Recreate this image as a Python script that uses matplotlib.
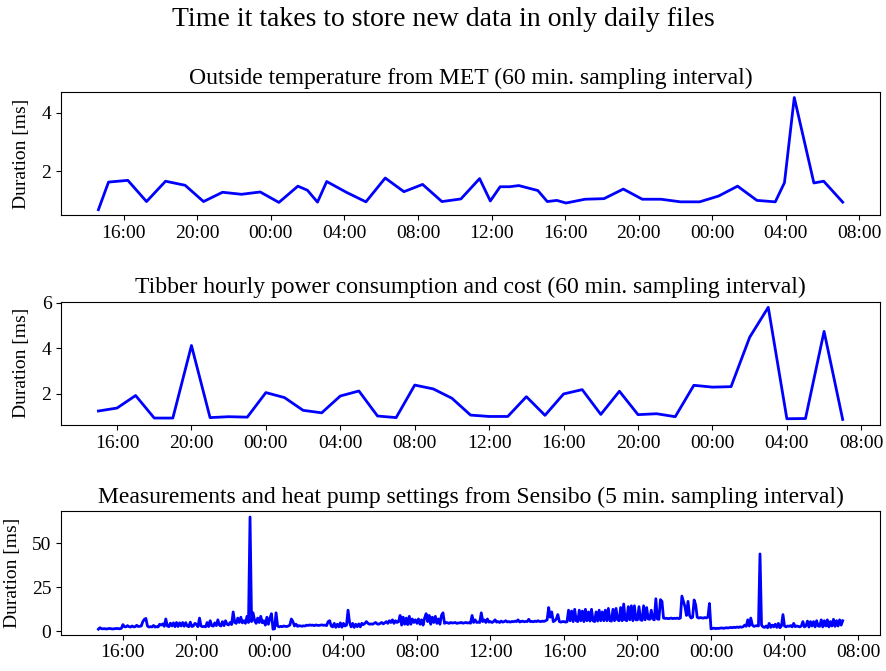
import numpy as np
import pandas as pd
import matplotlib
matplotlib.use("Agg")
import matplotlib.pyplot as plt
import matplotlib.dates as mdates

plt.rcParams['font.family'] = ['Liberation Serif', 'DejaVu Serif']
plt.rcParams['font.size'] = 14

# outside temperature from MET, roughly hourly
met_times = [
    "2023-02-13 14:37", "2023-02-13 15:10", "2023-02-13 16:13", "2023-02-13 17:14",
    "2023-02-13 18:16", "2023-02-13 19:20", "2023-02-13 20:20", "2023-02-13 21:22",
    "2023-02-13 22:24", "2023-02-13 23:25", "2023-02-14 00:26", "2023-02-14 01:28",
    "2023-02-14 01:59", "2023-02-14 02:32", "2023-02-14 03:02", "2023-02-14 04:06",
    "2023-02-14 05:10", "2023-02-14 06:13", "2023-02-14 07:14", "2023-02-14 08:15",
    "2023-02-14 09:18", "2023-02-14 10:20", "2023-02-14 11:21", "2023-02-14 11:56",
    "2023-02-14 12:28", "2023-02-14 12:59", "2023-02-14 13:29", "2023-02-14 14:31",
    "2023-02-14 15:02", "2023-02-14 15:33", "2023-02-14 16:03", "2023-02-14 17:05",
    "2023-02-14 18:07", "2023-02-14 19:10", "2023-02-14 20:12", "2023-02-14 21:13",
    "2023-02-14 22:17", "2023-02-14 23:19", "2023-02-15 00:21", "2023-02-15 01:23",
    "2023-02-15 02:26", "2023-02-15 03:26", "2023-02-15 03:56", "2023-02-15 04:28",
    "2023-02-15 05:32", "2023-02-15 06:04", "2023-02-15 07:06",
]
met_ms = [
    0.67, 1.62, 1.68, 0.95, 1.65, 1.51, 0.95, 1.27, 1.20, 1.28, 0.92, 1.48,
    1.34, 0.93, 1.64, 1.27, 0.94, 1.76, 1.29, 1.54, 0.95, 1.04, 1.74, 0.97,
    1.46, 1.46, 1.50, 1.33, 0.95, 0.99, 0.90, 1.03, 1.05, 1.38, 1.03, 1.03,
    0.94, 0.94, 1.14, 1.48, 0.99, 0.94, 1.60, 4.53, 1.59, 1.65, 0.93,
]

# tibber, hourly from 15:00
tibber_start = "2023-02-13 15:00"
tibber_ms = [
    1.25, 1.38, 1.93, 0.94, 0.94, 4.13, 0.96, 1.00, 0.98, 2.06, 1.84, 1.28,
    1.17, 1.91, 2.13, 1.03, 0.96, 2.39, 2.22, 1.81, 1.07, 1.01, 1.01, 1.88,
    1.06, 2.00, 2.19, 1.10, 2.12, 1.09, 1.13, 1.00, 2.38, 2.30, 2.32, 4.49,
    5.81, 0.91, 0.92, 4.75, 0.88,
]

# sensibo, every 5 min from 14:40 (one row per hour)
sensibo_start = "2023-02-13 14:40"
sensibo_ms = [
    1.2, 2.0, 1.5, 1.4,
    1.5, 1.3, 1.4, 1.6, 1.5, 1.3, 1.4, 1.5, 1.6, 1.5, 1.4, 1.7,
    3.8, 2.6, 2.5, 3.2, 2.6, 2.4, 3.0, 2.5, 2.6, 3.4, 2.7, 2.8,
    3.0, 5.5, 6.8, 7.3, 3.0, 2.4, 2.6, 2.5, 3.3, 2.4, 2.6, 2.5,
    4.0, 3.5, 4.2, 2.8, 7.0, 3.0, 2.6, 4.6, 3.0, 4.8, 2.6, 5.0,
    2.7, 4.8, 3.0, 5.0, 2.8, 4.9, 3.0, 2.6, 5.2, 2.7, 3.0, 4.5,
    4.0, 2.6, 7.5, 3.0, 2.6, 2.8, 2.5, 5.0, 2.7, 6.0, 3.2, 2.9,
    4.8, 3.2, 6.5, 3.5, 3.0, 5.5, 3.2, 6.0, 4.0, 3.6, 5.0, 3.8,
    11.0, 5.0, 4.5, 7.5, 5.0, 8.0, 4.8, 6.0, 4.5, 8.5, 5.0, 65.0,
    5.5, 10.5, 6.0, 4.5, 7.5, 5.0, 8.5, 4.8, 6.0, 3.5, 8.0, 4.0,
    7.5, 10.0, 1.2, 1.4, 10.5, 3.0, 2.5, 2.8, 2.6, 3.0, 2.8, 2.7,
    3.0, 3.5, 7.0, 5.5, 3.0, 4.0, 2.8, 3.2, 3.0, 2.9, 3.1, 3.0,
    3.5, 3.3, 3.6, 3.4, 3.5, 3.2, 3.6, 3.4, 3.3, 3.5, 3.6, 3.4,
    3.5, 3.2, 5.5, 6.0, 3.0, 2.5, 4.5, 2.2, 4.0, 2.5, 4.8, 2.3,
    4.5, 3.0, 3.5, 12.0, 5.0, 2.5, 4.5, 2.2, 4.0, 2.6, 4.2, 2.5,
    4.5, 3.8, 4.5, 5.5, 4.5, 4.0, 4.2, 4.0, 4.5, 5.0, 4.2, 4.0,
    4.5, 5.0, 4.2, 4.8, 5.5, 4.5, 6.0, 5.0, 6.5, 4.5, 6.0, 5.0,
    5.5, 9.0, 3.5, 8.0, 4.0, 7.5, 3.8, 8.5, 4.0, 7.0, 5.0, 6.5,
    4.5, 7.0, 4.0, 6.5, 3.5, 7.5, 10.0, 5.5, 9.0, 4.0, 8.0, 5.0,
    8.5, 4.5, 7.0, 4.0, 9.0, 10.5, 4.5, 5.0, 4.8, 4.5, 5.0, 4.7,
    4.8, 5.0, 4.5, 4.7, 4.8, 5.0, 4.6, 4.8, 5.0, 4.7, 4.9, 4.6,
    9.0, 5.0, 6.5, 5.0, 5.2, 5.0, 10.5, 5.5, 6.5, 5.0, 7.0, 5.2,
    5.5, 5.0, 5.5, 6.5, 5.2, 5.5, 5.0, 5.8, 5.2, 5.5, 6.0, 5.3,
    5.5, 5.2, 5.6, 5.4, 5.8, 5.5, 6.5, 5.3, 5.5, 5.8, 5.4, 5.6,
    5.5, 6.8, 5.5, 5.6, 5.4, 5.8, 5.5, 6.0, 5.6, 5.5, 5.8, 5.6,
    6.0, 6.5, 13.5, 8.0, 11.0, 5.5, 6.0, 7.0, 9.5, 5.5, 5.2, 5.5,
    5.5, 5.2, 5.4, 12.0, 6.0, 11.5, 5.5, 12.5, 6.0, 5.5, 12.0, 6.0,
    11.5, 5.5, 12.5, 6.0, 11.0, 5.8, 12.5, 6.0, 5.5, 11.0, 5.8, 12.0,
    6.0, 11.0, 6.0, 12.0, 6.0, 13.0, 6.0, 5.8, 12.5, 6.0, 13.0, 6.5,
    6.0, 13.5, 6.0, 15.5, 6.5, 6.0, 14.0, 6.5, 14.5, 6.0, 14.5, 6.5,
    6.5, 14.0, 6.5, 6.2, 14.5, 6.5, 13.5, 7.0, 6.8, 12.0, 7.0, 6.5,
    18.5, 7.0, 6.8, 18.0, 17.0, 7.5, 7.3, 7.4, 7.2, 7.3, 7.5, 7.2,
    7.4, 7.3, 7.5, 7.2, 7.5, 20.0, 17.0, 14.0, 9.0, 17.0, 9.0, 7.5,
    8.0, 17.8, 15.0, 8.0, 7.5, 7.8, 7.6, 7.5, 7.8, 7.6, 8.0, 15.8,
    1.4, 1.6, 1.8, 1.5, 1.7, 1.6, 1.8, 1.9, 1.7, 1.8, 2.0, 1.9,
    2.0, 2.2, 2.0, 2.3, 2.1, 2.4, 2.2, 2.5, 2.3, 2.6, 3.5, 2.8,
    6.5, 3.0, 7.5, 3.5, 2.8, 3.0, 3.2, 3.0, 44.0, 3.5, 2.5, 2.2,
    3.0, 2.0, 4.5, 2.2, 3.5, 2.5, 4.0, 2.2, 4.5, 2.0, 3.0, 9.5,
    3.0, 2.5, 3.0, 2.8, 3.2, 2.5, 4.5, 2.6, 3.0, 2.8, 2.5, 3.0,
    5.5, 2.5, 3.0, 5.8, 2.4, 5.5, 3.0, 5.5, 2.5, 6.0, 3.0, 2.8,
    6.5, 2.5, 6.0, 3.0, 6.5, 2.5, 5.5, 3.0, 6.8, 2.8, 6.0, 3.0,
    6.5, 3.5, 6.0,
]

titles = [
    "Outside temperature from MET (60 min. sampling interval)",
    "Tibber hourly power consumption and cost (60 min. sampling interval)",
    "Measurements and heat pump settings from Sensibo (5 min. sampling interval)",
]
yticks = [[2, 4], [2, 4, 6], [0, 25, 50]]

series = [
    (pd.to_datetime(met_times), met_ms),
    (pd.date_range(tibber_start, periods=len(tibber_ms), freq="h"), tibber_ms),
    (pd.date_range(sensibo_start, periods=len(sensibo_ms), freq="5min"), sensibo_ms),
]

fig, axes = plt.subplots(3, 1, figsize=(8.87, 6.71), dpi=100)
fig.subplots_adjust(left=0.069, right=0.992, top=0.863, bottom=0.054, hspace=0.70)
fig.suptitle("Time it takes to store new data in only daily files", fontsize=20, y=0.99)

for ax, (t, v), title, yt in zip(axes, series, titles, yticks):
    ax.plot(t, v, color="blue", lw=2)
    ax.set_title(title, fontsize=17)
    ax.set_ylabel("Duration [ms]", labelpad=8)
    ax.set_yticks(yt)
    ax.xaxis.set_major_locator(mdates.HourLocator(byhour=[0, 4, 8, 12, 16, 20]))
    ax.xaxis.set_major_formatter(mdates.DateFormatter("%H:%M"))

fig.savefig("out.png", dpi=100)
